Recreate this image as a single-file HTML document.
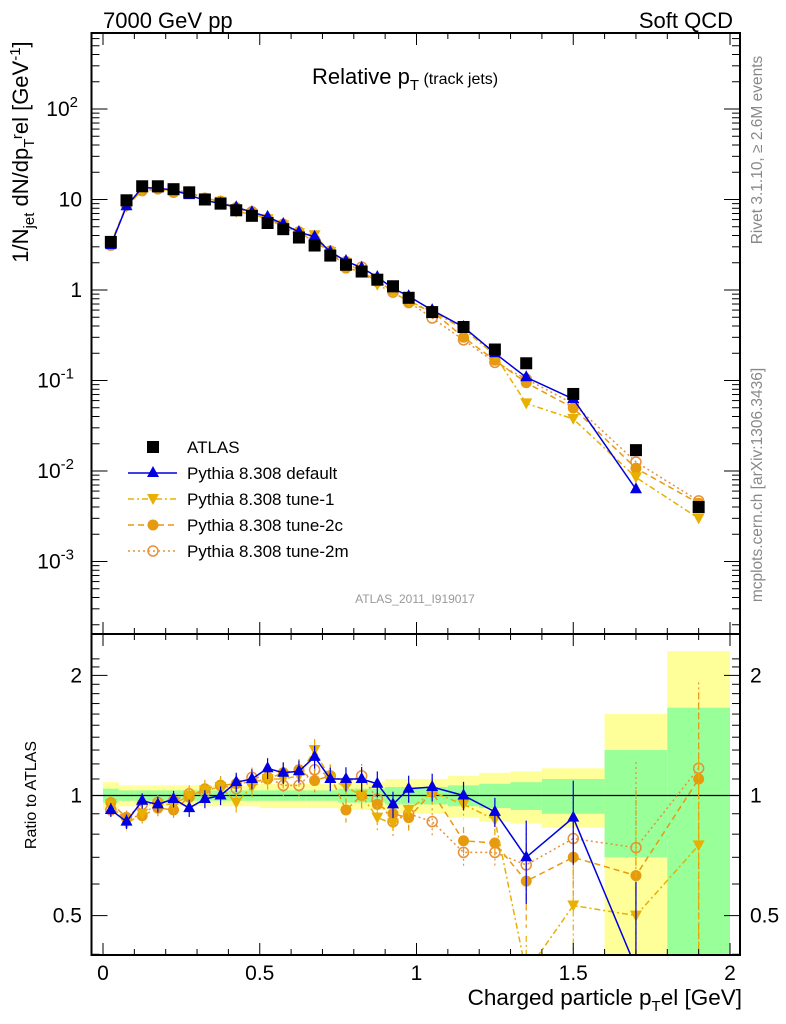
<!DOCTYPE html>
<html><head><meta charset="utf-8"><style>
html,body{margin:0;padding:0;background:#fff;width:786px;height:1024px;overflow:hidden}
svg{display:block;font-family:"Liberation Sans",sans-serif}
</style></head><body>
<svg id="c" width="786" height="1024" xmlns="http://www.w3.org/2000/svg" overflow="hidden">
<g id="bands"></g><g id="grid"></g><g id="series"></g><g id="axes"></g>
<text x="103" y="28" font-size="22">7000 GeV pp</text>
<text x="733" y="28" font-size="22" text-anchor="end">Soft QCD</text>
<text x="312" y="84" font-size="22">Relative p<tspan font-size="15" dy="6">T</tspan><tspan font-size="16" dy="-6"> (track jets)</tspan></text>
<text x="415" y="603" font-size="12" fill="#999" text-anchor="middle">ATLAS_2011_I919017</text>
<text transform="translate(762,150) rotate(-90)" font-size="15.5" fill="#888" text-anchor="middle">Rivet 3.1.10, ≥ 2.6M events</text>
<text transform="translate(762,485) rotate(-90)" font-size="15.5" fill="#888" text-anchor="middle">mcplots.cern.ch [arXiv:1306.3436]</text>
<text transform="translate(28,152) rotate(-90)" font-size="22" text-anchor="middle">1/N<tspan font-size="15" dy="6">jet</tspan><tspan dy="-6"> dN/dp</tspan><tspan font-size="15" dy="6">T</tspan><tspan dy="-12" font-size="15">r</tspan><tspan dy="6">el [GeV</tspan><tspan font-size="15" dy="-8">-1</tspan><tspan dy="8">]</tspan></text>
<text transform="translate(36,795) rotate(-90)" font-size="16" text-anchor="middle">Ratio to ATLAS</text>
<text x="742" y="1005" font-size="22.5" text-anchor="end">Charged particle p<tspan font-size="15" dy="6">T</tspan><tspan dy="-6">el [GeV]</tspan></text>
<g id="legend"></g>
</svg>
<script>
const xs=[0.025,0.075,0.125,0.175,0.225,0.275,0.325,0.375,0.425,0.475,0.525,0.575,0.625,0.675,0.725,0.775,0.825,0.875,0.925,0.975,1.05,1.15,1.25,1.35,1.5,1.7,1.9];
const edges=[0,0.05,0.1,0.15,0.2,0.25,0.3,0.35,0.4,0.45,0.5,0.55,0.6,0.65,0.7,0.75,0.8,0.85,0.9,0.95,1.0,1.1,1.2,1.3,1.4,1.6,1.8,2.0];
const atlas=[3.4,9.8,14,14,13,12,10,9,7.6,6.6,5.5,4.7,3.8,3.1,2.4,1.9,1.6,1.3,1.1,0.82,0.57,0.39,0.22,0.155,0.071,0.017,0.004];
const rDefault=[0.92,0.86,0.97,0.95,0.98,0.93,0.98,1.0,1.08,1.1,1.17,1.14,1.15,1.25,1.1,1.1,1.1,1.07,0.95,1.04,1.05,1.0,0.91,0.7,0.88,0.37,null];
const rTune1=[0.95,0.85,0.9,0.95,0.95,1.0,1.03,1.05,0.96,1.05,1.1,1.1,1.12,1.3,1.1,1.05,1.0,0.88,0.85,0.92,1.02,0.95,0.87,0.36,0.53,0.5,0.75];
const rTune2c=[0.96,0.88,0.89,0.93,0.92,0.99,1.04,1.06,1.07,1.08,1.1,1.14,1.16,1.09,1.12,0.92,1.0,0.95,0.9,0.88,1.02,0.77,0.76,0.61,0.7,0.63,1.1];
const rTune2m=[0.92,0.88,0.95,0.96,0.97,1.01,1.02,1.06,1.04,1.11,1.11,1.06,1.06,1.16,1.12,1.08,1.12,0.98,0.86,0.9,0.86,0.72,0.72,0.67,0.78,0.74,1.17];
const greenErr=[0.04,0.03,0.03,0.03,0.03,0.03,0.03,0.03,0.03,0.03,0.03,0.03,0.03,0.03,0.03,0.04,0.04,0.04,0.05,0.05,0.05,0.06,0.07,0.08,0.1,0.3,0.66];
const yellowErr=[0.08,0.06,0.06,0.06,0.06,0.06,0.06,0.06,0.06,0.06,0.07,0.07,0.07,0.07,0.07,0.08,0.08,0.08,0.1,0.1,0.1,0.12,0.14,0.15,0.17,0.6,1.3];
const xTicks=[0,0.5,1,1.5,2];
const yDecades=[-3,-2,-1,0,1,2];
const rTicks=[0.5,1,2];

const NS="http://www.w3.org/2000/svg";
const L=91.5,R=740,T=33,MB=634,RB=955;
const X=v=>103+v*313.5;
const Y=v=>290-90.5*Math.log10(v);
const RY=r=>795.5-399*Math.log10(r);
const cl=(y,a,b)=>Math.min(Math.max(y,a),b);
function mk(tag,at,par){const e=document.createElementNS(NS,tag);for(const k in at)e.setAttribute(k,at[k]);document.getElementById(par).appendChild(e);return e;}
const cols={def:"#0000e0",t1:"#e8b000",t2c:"#e69a10",t2m:"#e8903a"};

for(let i=0;i<xs.length;i++){
  const x0=X(edges[i]),x1=X(edges[i+1]);
  const yh=cl(RY(1+yellowErr[i]),MB,RB),yl=cl(RY(Math.max(1-yellowErr[i],0.01)),MB,RB);
  const b1=mk('rect',{x:x0,y:yh,width:x1-x0,height:yl-yh,fill:'#ffff99'},'bands');
  
  
  const gh=cl(RY(1+greenErr[i]),MB,RB),gl=cl(RY(Math.max(1-greenErr[i],0.01)),MB,RB);
  const b2=mk('rect',{x:x0,y:gh,width:x1-x0,height:gl-gh,fill:'#99ff99'},'bands');
  
  
}
const one=mk('line',{x1:L,x2:R,y1:RY(1),y2:RY(1),stroke:'#000','stroke-width':1.3},'grid');



const defs=mk('defs',{},'series');
const c1=document.createElementNS(NS,'clipPath');c1.setAttribute('id','cm');defs.appendChild(c1);
const r1=document.createElementNS(NS,'rect');r1.setAttribute('x',L);r1.setAttribute('y',T);r1.setAttribute('width',R-L);r1.setAttribute('height',MB-T);c1.appendChild(r1);
const c2=document.createElementNS(NS,'clipPath');c2.setAttribute('id','cr');defs.appendChild(c2);
const r2=document.createElementNS(NS,'rect');r2.setAttribute('x',L);r2.setAttribute('y',MB);r2.setAttribute('width',R-L);r2.setAttribute('height',RB-MB);c2.appendChild(r2);
mk('g',{id:'gm','clip-path':'url(#cm)'},'series');
mk('g',{id:'gr','clip-path':'url(#cr)'},'series');

function marker(kind,col,x,y,par,name){
  let e;
  if(kind==='sq')e=mk('rect',{x:x-6,y:y-6,width:12,height:12,fill:'#000'},par);
  else if(kind==='up')e=mk('polygon',{points:`${x},${y-7} ${x-6},${y+4} ${x+6},${y+4}`,fill:col},par);
  else if(kind==='dn')e=mk('polygon',{points:`${x},${y+6} ${x-6},${y-5} ${x+6},${y-5}`,fill:col},par);
  else if(kind==='fc')e=mk('circle',{cx:x,cy:y,r:5.5,fill:col},par);
  else e=mk('circle',{cx:x,cy:y,r:5,fill:'none',stroke:col,'stroke-width':1.5},par);
  
  
}
const series=[
 {r:rDefault,col:cols.def,m:'up',dash:'',name:'pythia-default'},
 {r:rTune1,col:cols.t1,m:'dn',dash:'6,3,2,3',name:'pythia-tune-1'},
 {r:rTune2c,col:cols.t2c,m:'fc',dash:'6,4',name:'pythia-tune-2c'},
 {r:rTune2m,col:cols.t2m,m:'oc',dash:'2,3',name:'pythia-tune-2m'}];
series.slice().reverse().forEach(s=>{
  let pm=[],pr=[];
  s.r.forEach((r,i)=>{if(r==null)return;pm.push(X(xs[i])+','+Y(atlas[i]*r));pr.push(X(xs[i])+','+RY(r));});
  const a=mk('polyline',{points:pm.join(' '),fill:'none',stroke:s.col,'stroke-width':1.5,'stroke-dasharray':s.dash},'gm');
  
  
  const b=mk('polyline',{points:pr.join(' '),fill:'none',stroke:s.col,'stroke-width':1.5,'stroke-dasharray':s.dash},'gr');
  
  
  s.r.forEach((r,i)=>{if(r==null)return;
    const e=0.04+0.02*i/10+(i>22?0.15:0)+(i>24?0.4:0);
    const eb=mk('line',{x1:X(xs[i]),x2:X(xs[i]),y1:cl(RY(r*(1+e)),MB,RB),y2:cl(RY(Math.max(r*(1-e),0.05)),MB,RB),stroke:s.col,'stroke-width':1.2,'stroke-dasharray':s.dash},'gr');
    
    
    marker(s.m,s.col,X(xs[i]),Y(atlas[i]*r),'gm',s.name+'-point');
    marker(s.m,s.col,X(xs[i]),RY(r),'gr',s.name+'-ratio-point');
  });
});
atlas.forEach((v,i)=>marker('sq','#000',X(xs[i]),Y(v),'gm','atlas-point'));

[[T,MB],[MB,RB]].forEach(([t,b],k)=>{
  const f=mk('rect',{x:L,y:t,width:R-L,height:b-t,fill:'none',stroke:'#000','stroke-width':2},'axes');
  
  
  for(let v=0;v<=2.0001;v+=0.1){const maj=Math.abs(v*2-Math.round(v*2))<1e-6;const len=maj?12:6;
    mk('line',{x1:X(v),x2:X(v),y1:b,y2:b-len,stroke:'#000'},'axes');
    mk('line',{x1:X(v),x2:X(v),y1:t,y2:t+len,stroke:'#000'},'axes');}
});
xTicks.forEach(v=>{const t=mk('text',{x:X(v),y:980,'font-size':21,'text-anchor':'middle'},'axes');t.textContent=String(v);
 
 });
for(let d=-4;d<=2;d++){for(let m=1;m<10;m++){const v=m*Math.pow(10,d);const y=Y(v);if(y<T||y>MB)continue;const len=m===1?16:8;
  mk('line',{x1:L,x2:L+len,y1:y,y2:y,stroke:'#000'},'axes');mk('line',{x1:R,x2:R-len,y1:y,y2:y,stroke:'#000'},'axes');}}
yDecades.forEach(d=>{const t=mk('text',{x:82,y:Y(Math.pow(10,d))+7,'font-size':21,'text-anchor':'end'},'axes');
 
 
 if(d===0)t.textContent='1';else if(d===1)t.textContent='10';else{t.textContent='10';const s=document.createElementNS(NS,'tspan');s.setAttribute('font-size','15');s.setAttribute('dy','-9');s.textContent=String(d);t.appendChild(s);t.setAttribute('x',d<0?74:78);}
});
for(let v=0.4;v<=2.3;v+=0.1){const y=RY(v);if(y<MB||y>RB)continue;const maj=[0.5,1,2].some(q=>Math.abs(q-v)<1e-6);const len=maj?16:8;
  mk('line',{x1:L,x2:L+len,y1:y,y2:y,stroke:'#000'},'axes');mk('line',{x1:R,x2:R-len,y1:y,y2:y,stroke:'#000'},'axes');}
rTicks.forEach(v=>{[[82,'end'],[750,'start']].forEach(([x,a])=>{const t=mk('text',{x:x,y:RY(v)+7,'font-size':21,'text-anchor':a},'axes');t.textContent=String(v);
 
 });});

const leg=[['ATLAS','sq','#000',''],['Pythia 8.308 default','up',cols.def,''],['Pythia 8.308 tune-1','dn',cols.t1,'6,3,2,3'],['Pythia 8.308 tune-2c','fc',cols.t2c,'6,4'],['Pythia 8.308 tune-2m','oc',cols.t2m,'2,3']];
leg.forEach((l,i)=>{const y=447+i*26;
 if(i>0){const ln=mk('line',{x1:128,x2:177,y1:y,y2:y,stroke:l[2],'stroke-width':1.5,'stroke-dasharray':l[3]},'legend');
  
  }
 marker(l[1],l[2],153,y,'legend','legend-marker');
 const t=mk('text',{x:187,y:y+6,'font-size':17},'legend');t.textContent=l[0];
 
 
});
</script>
</body></html>
